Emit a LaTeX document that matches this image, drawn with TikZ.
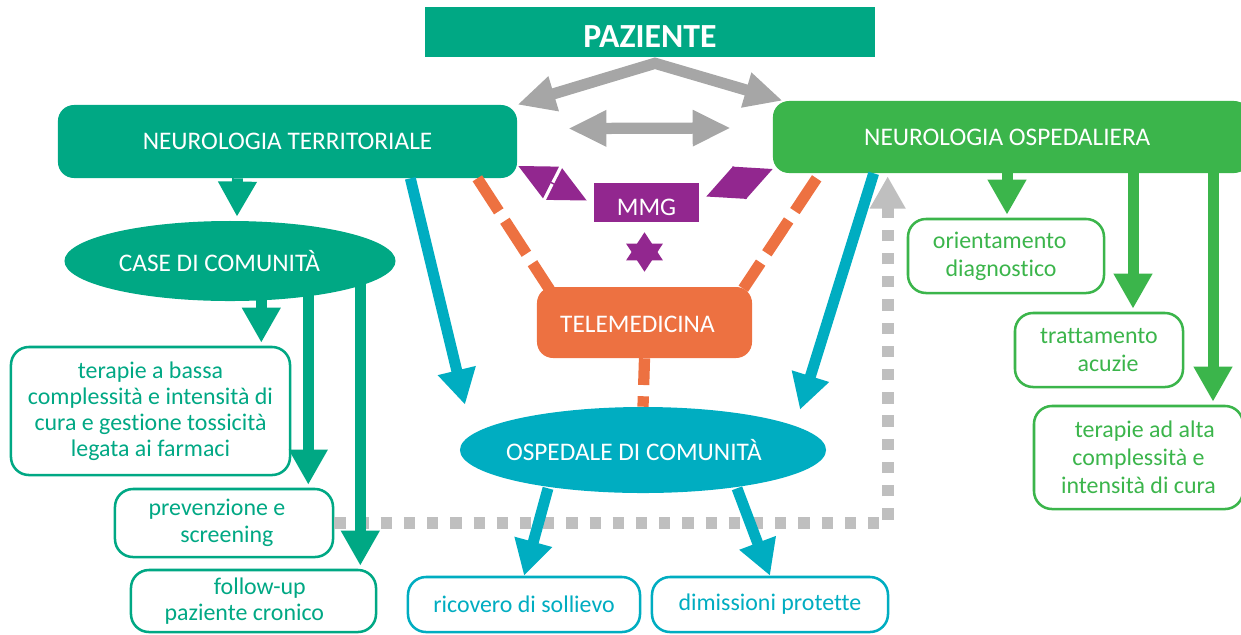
\documentclass[tikz,border=0pt]{standalone}
\usepackage{fontspec}
\setmainfont{Carlito}[Ligatures={NoCommon,NoContextual}]
\usetikzlibrary{arrows.meta,shapes.geometric,calc}

\definecolor{terrgreen}{RGB}{0,168,132}
\definecolor{ospgreen}{RGB}{59,181,75}
\definecolor{odccyan}{RGB}{0,173,193}
\definecolor{teleorange}{RGB}{237,113,65}
\definecolor{mmgpurple}{RGB}{146,39,143}
\definecolor{arrowgray}{RGB}{166,166,166}
\definecolor{dotgray}{RGB}{191,191,191}

\begin{document}
\begin{tikzpicture}[
    x=0.025cm, y=-0.025cm,
    hdr/.style={draw=none, text=white, inner sep=0pt, font=\fontsize{18}{20}\selectfont},
    box/.style={draw, line width=1.8pt, fill=white, rounded corners=0.45cm, align=center, inner sep=0pt, font=\fontsize{17}{19}\selectfont},
    flow/.style={-{Triangle[length=25pt,width=26pt]}, line width=7.8pt},
    bothway/.style={{Triangle[length=27pt,width=24pt]}-{Triangle[length=27pt,width=24pt]}, line width=8pt, arrowgray},
    pair/.style={{Triangle[length=26pt,width=25pt]}-{Triangle[length=26pt,width=25pt]}, line width=1pt, mmgpurple},
    link/.style={line width=8pt, teleorange, dash pattern=on 28pt off 8pt},
    back/.style={-{Triangle[length=23pt,width=24pt]}, line width=8.5pt, dotgray, dash pattern=on 8pt off 8.5pt}
]
    \useasboundingbox (0,0) rectangle (1241,634);

    % Top row
    \node[hdr, fill=terrgreen, minimum width=11.25cm, minimum height=1.25cm, text height=22pt, font=\fontsize{24}{26}\selectfont\bfseries] (paz) at (650,32) {PAZIENTE};
    \node[hdr, fill=terrgreen, rounded corners=0.4cm, minimum width=11.475cm, minimum height=1.825cm] (nt) at (287.5,141.5) {NEUROLOGIA TERRITORIALE};
    \node[hdr, fill=ospgreen, rounded corners=0.4cm, minimum width=11.925cm, minimum height=1.8cm] (no) at (1011.5,137) {NEUROLOGIA OSPEDALIERA\hspace*{6pt}};

    % Middle
    \node[hdr, fill=mmgpurple, minimum width=2.625cm, minimum height=0.975cm, text height=18pt] (mmg) at (646.5,202.5) {MMG};
    \node[hdr, fill=teleorange, rounded corners=0.4cm, minimum width=5.375cm, minimum height=1.775cm, text height=14.5pt] (tm) at (644.5,322.5) {TELEMEDICINA\hspace*{10pt}};
    \node[hdr, ellipse, fill=terrgreen, minimum width=8.275cm, minimum height=2cm] (cdc) at (230,261) {\makebox[0pt]{CASE DI COMUNITÀ\hspace*{15pt}}};
    \node[hdr, ellipse, fill=odccyan, minimum width=9.15cm, minimum height=2.15cm] (odc) at (643,450) {\makebox[0pt]{OSPEDALE DI COMUNITÀ\hspace*{13pt}}};

    % Territorial services
    \node[box, draw=terrgreen, text=terrgreen, minimum width=6.975cm, minimum height=3.2cm, font=\fontsize{17}{18.5}\selectfont] (b1) at (150.5,411) {terapie a bassa\\complessità e intensità di\\cura e gestione tossicità\\legata ai farmaci};
    \node[box, draw=terrgreen, text=terrgreen, minimum width=5.45cm, minimum height=1.7cm] (b2) at (224,523) {prevenzione e\hspace*{10pt}\\\hspace*{4pt}screening};
    \node[box, draw=terrgreen, text=terrgreen, minimum width=6.125cm, minimum height=1.55cm] (b3) at (253.5,601) {\hspace*{9pt}follow-up\\paziente cronico\hspace*{13pt}};

    % Community hospital services
    \node[box, draw=odccyan, text=odccyan, minimum width=5.8cm, minimum height=1.375cm] (r1) at (524,604.5) {ricovero di sollievo};
    \node[box, draw=odccyan, text=odccyan, minimum width=5.9cm, minimum height=1.375cm] (r2) at (770,604.5) {dimissioni protette};

    % Hospital services
    \node[box, draw=ospgreen, text=ospgreen, minimum width=4.9cm, minimum height=1.85cm, font=\fontsize{17}{20}\selectfont] (g1) at (1006,256) {orientamento\hspace*{9pt}\\diagnostico\hspace*{7pt}};
    \node[box, draw=ospgreen, text=ospgreen, minimum width=4.2cm, minimum height=1.85cm, font=\fontsize{17}{20}\selectfont] (g2) at (1099,350) {trattamento\\\hspace*{13pt}acuzie};
    \node[box, draw=ospgreen, text=ospgreen, minimum width=5.225cm, minimum height=2.575cm, font=\fontsize{17}{20}\selectfont] (g3) at (1138.5,457.5) {\hspace*{9pt}terapie ad alta\\complessità e\\intensità di cura};

    % Patient links
    \draw[bothway] (nt.north east) -- ($(paz.south)+(5,6)$) -- ($(no.north west)+(10,0)$);
    \draw[bothway] ($(nt.east)+(51,-13)$) -- ($(no.west)+(-42,-9)$);

    % MMG
    \draw[pair] ($(nt.east)+(1,24.5)$) -- ($(mmg.west)+(-7,-2)$);
    \draw[pair] ($(mmg.east)+(7,-6)$) -- ($(no.west)+(0,32)$);
    \draw[pair, {Triangle[length=20pt,width=26pt]}-{Triangle[length=20pt,width=26pt]}] ($(mmg.south)+(-2,10)$) -- ($(tm.north)+(0,-15)$);

    % Telemedicine
    \draw[link] ($(nt.south east)+(-40,0)$) -- ($(tm.north west)+(13,3)$);
    \draw[link] ($(no.south west)+(44,5)$) -- ($(tm.north east)+(-9,2)$);
    \draw[link, dash phase=9pt] (tm.south) -- (odc.north);

    % Back to hospital
    \coordinate (up) at ($(no.south west)+(115,3)$);
    \draw[back] (b2.east) -| (up);

    % Territorial flows
    \draw[flow, terrgreen] ($(nt.south)+(-50,0)$) -- ($(cdc.north)+(7,-4)$);
    \foreach \b/\dx/\dy in {b1/-30/5, b2/-26/10, b3/-17/20} {
        \coordinate (tip) at ($(\b.north east)+(\dx,-3)$);
        \draw[flow, terrgreen] ($(cdc.south -| tip)+(0,-\dy)$) -- (tip);
    }

    % Hospital flows
    \foreach \b/\dx in {g1/1, g2/34, g3/74.5} {
        \coordinate (tip) at ($(\b.north)+(\dx,-3)$);
        \draw[flow, ospgreen] (no.south -| tip) -- (tip);
    }

    % Community hospital flows
    \draw[flow, odccyan] ($(nt.south east)+(-107,0)$) -- ($(odc.north)+(-178,-2)$);
    \draw[flow, odccyan] ($(no.south west)+(101,0)$) -- ($(odc.north)+(157,3)$);
    \draw[flow, odccyan] ($(odc.south)+(-95,-5)$) -- (r1.north);
    \draw[flow, odccyan] ($(odc.south)+(94,-5)$) -- (r2.north);
\end{tikzpicture}
\end{document}
